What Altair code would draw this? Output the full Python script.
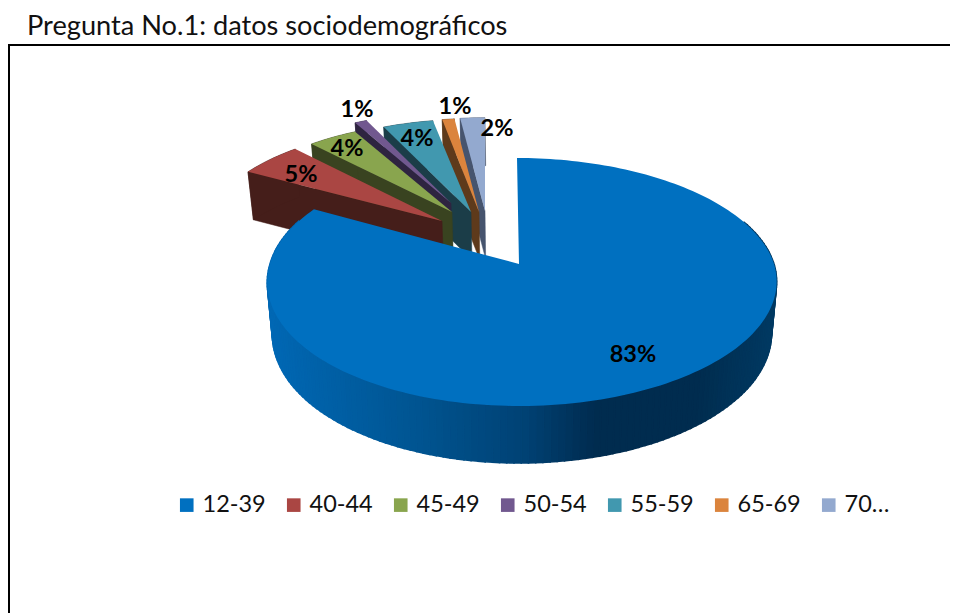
import math
import altair as alt

TITLE = "Pregunta No.1: datos sociodemográficos"
CATEGORIES = ["12-39", "40-44", "45-49", "50-54", "55-59", "65-69", "70…"]
SHARES = [83, 5, 4, 1, 4, 1, 2]
LABELS = ["83%", "5%", "4%", "1%", "4%", "1%", "2%"]
TOP_COLORS = ["#0070C0", "#AA4643", "#89A54E", "#71588F", "#4198AF", "#DB843D", "#93A9CF"]
WALL_COLORS = ["#00467C", "#451E1A", "#394320", "#2E2440", "#1B3D48", "#5E3A1B", "#46546E"]

# layout of the 3-D look (page pixels)
ORIGIN_X, ORIGIN_Y = 8, 45
CX, CY = 519, 264
A, B, K = 252, 121.4, 0.145
APEX = [(519, 264), (442, 221), (452, 212), (451, 203), (471, 212), (479, 212), (485, 211)]
SCALE = [(1, 1), (0.94, 0.9), (0.9, 0.85), (0.89, 0.85), (0.92, 0.875), (0.89, 0.885), (0.9, 0.88)]
LABEL_POS = [(633, 355), (301, 175), (347, 149), (357, 110), (417, 139), (455, 107), (497, 129)]
WALL_STOPS = [(270, (0, 104, 180)), (422, (0, 84, 144)), (525, (0, 66, 116)), (595, (0, 44, 80)),
              (698, (0, 45, 79)), (775, (0, 58, 99))]


def ring(theta):
    u, v = math.sin(theta), -math.cos(theta)
    w = 1 - K * v
    return A * u / w, B * v / w, v, u


def pt(i, theta):
    dx, dy, v, u = ring(theta)
    skew = (3 * u * u - 2 * max(0.0, -v)) if i == 0 else 0.0
    return APEX[i][0] + SCALE[i][0] * dx + skew, APEX[i][1] + SCALE[i][1] * dy, v


def down(i, p):
    x, y, v = p
    if i == 0:
        return CX + 3 + 0.98 * (x - CX - 3), y + 51 + 6 * v
    return x + (CX - x) * 0.02, y + 48


def plot(p):
    return [round(p[0] - ORIGIN_X, 2), round(p[1] - ORIGIN_Y, 2)]


def feature(points, cat, fill):
    pts = [plot(p) for p in points]
    pts.append(pts[0])
    return {"type": "Feature", "geometry": {"type": "Polygon", "coordinates": [pts]},
            "properties": {"cat": cat, "fill": fill}}


def shade(x):
    for (x0, c0), (x1, c1) in zip(WALL_STOPS, WALL_STOPS[1:]):
        if x <= x1:
            t = max(0.0, (x - x0) / (x1 - x0))
            return "#%02x%02x%02x" % tuple(int(a + (b - a) * t) for a, b in zip(c0, c1))
    return "#%02x%02x%02x" % WALL_STOPS[-1][1]


PROJ = dict(type="identity", scale=1, translate=[0, 0])
color_scale = alt.Scale(domain=CATEGORIES, range=TOP_COLORS)
legend = alt.Legend(
    title=None, orient="none", legendX=167, legendY=448, direction="horizontal", columns=7,
    symbolType="square", symbolSize=185, symbolStrokeWidth=0, labelFont="Lato", labelFontSize=23.5,
    labelColor="#111111", labelOffset=4, columnPadding=16, padding=0, labelLimit=120,
)

edges = [0]
for s in SHARES:
    edges.append(edges[-1] + s / 100 * 2 * math.pi)

layers = []
for i in range(len(CATEGORIES) - 1, -1, -1):
    t0, t1 = edges[i], edges[i + 1]
    steps = max(6, int((t1 - t0) * 40))
    ths = [t0 + (t1 - t0) * j / steps for j in range(steps + 1)]
    arc = [pt(i, t) for t in ths]
    apex = (APEX[i][0], APEX[i][1], 0)
    walls = []
    if i == 0:
        for a, b in zip(arc, arc[1:]):
            if (a[2] > -0.35 or b[2] > -0.35):
                c = shade((a[0] + b[0]) / 2)
                walls.append(feature([a, b, down(0, b), down(0, a)], "wall", c))
    else:
        walls.append(feature([apex, arc[0], down(i, arc[0]), down(i, apex)], "wall", WALL_COLORS[i]))
        pts = arc + [down(i, p) for p in reversed(arc)]
        walls.append(feature(pts, "wall", WALL_COLORS[i]))
    layers.append(
        alt.Chart(alt.Data(values=walls)).mark_geoshape(strokeWidth=1.6 if i == 0 else 0.5).encode(
            fill=alt.Fill("properties.fill:N", scale=None, legend=None),
            stroke=alt.Stroke("properties.fill:N", scale=None, legend=None),
        ).project(**PROJ)
    )
    top = feature([apex] + arc, CATEGORIES[i], TOP_COLORS[i])
    layers.append(
        alt.Chart(alt.Data(values=[top])).mark_geoshape(strokeWidth=0).encode(
            color=alt.Color("properties.cat:N", scale=color_scale, legend=legend),
        ).project(**PROJ)
    )

label_rows = [{"label": l, "px": p[0] - ORIGIN_X, "py": p[1] - ORIGIN_Y} for l, p in zip(LABELS, LABEL_POS)]
labels = alt.Chart(alt.Data(values=label_rows)).mark_text(
    font="Lato", fontSize=23.5, fontWeight="bold", color="#000000", align="center", baseline="middle"
).encode(
    x=alt.X("px:Q", scale=None, axis=None),
    y=alt.Y("py:Q", scale=None, axis=None),
    text="label:N",
)

frame_left = alt.Chart(alt.Data(values=[{"a": 0}])).mark_rule(color="#000000", strokeWidth=2).encode(
    x=alt.value(1), y=alt.value(0), y2=alt.value(568))
frame_top = alt.Chart(alt.Data(values=[{"a": 0}])).mark_rule(color="#000000", strokeWidth=2).encode(
    x=alt.value(0), x2=alt.value(942), y=alt.value(0))

chart = alt.layer(frame_left, frame_top, *layers, labels).properties(
    width=942, height=568,
    padding={"left": 0, "top": 37, "right": 0, "bottom": 0},
    autosize=alt.AutoSizeParams(type="none"),
    title=alt.TitleParams(TITLE, anchor="start", frame="group", dx=19, offset=3, font="Lato",
                          fontSize=27.2, fontWeight="normal", color="#111111"),
).configure_view(stroke=None)

chart.save("out.html", embed_options={"renderer": "svg", "actions": False})
